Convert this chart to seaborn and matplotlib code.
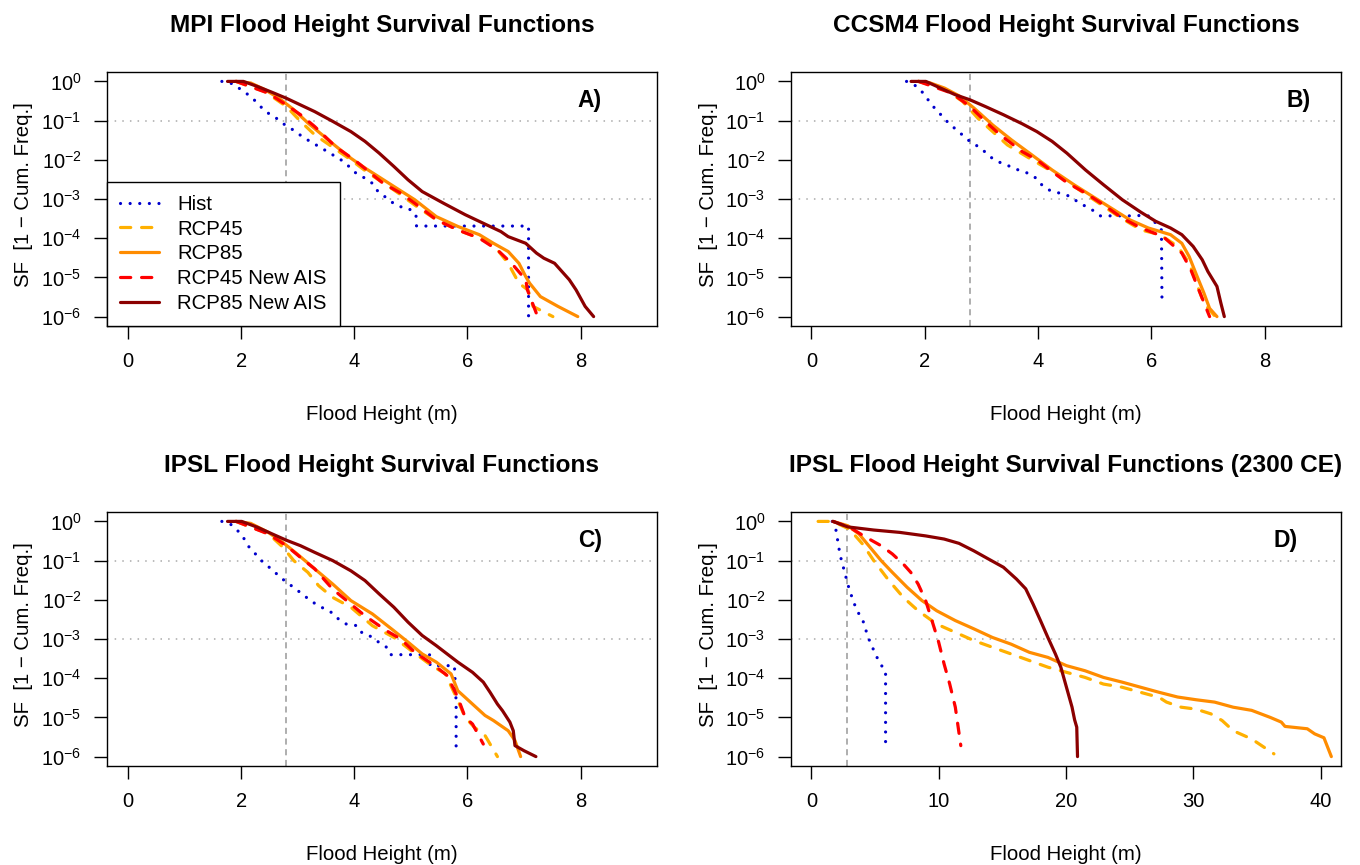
import numpy as np
import matplotlib
matplotlib.use("Agg")
import matplotlib.pyplot as plt
from matplotlib.ticker import NullLocator
import seaborn as sns

# series shared by every panel
series_names = ["Hist", "RCP45", "RCP85", "RCP45 New AIS", "RCP85 New AIS"]
series_colors = ["#0000cd", "#ffb000", "#ff8c00", "#ff0000", "#8b0000"]

# ---- A) MPI : flood height (m) and log10 of the survival function ----
mpi_hist_x = [1.66, 1.85, 2.09, 2.23, 2.43, 2.60, 2.72, 2.83, 2.98, 3.12, 3.26, 3.39, 3.54, 3.68,
              3.81, 4.03, 4.19, 4.32, 4.41, 4.54, 4.64, 4.79, 4.95, 5.09, 5.10, 7.08, 7.08]
mpi_hist_log = [0, -0.06, -0.30, -0.47, -0.77, -0.91, -1.06, -1.15, -1.30, -1.45, -1.56, -1.68, -1.80, -1.93,
                -2.04, -2.34, -2.47, -2.60, -2.79, -2.94, -3.06, -3.19, -3.23, -3.39, -3.69, -3.69, -6.0]
mpi_rcp45_x = [1.91, 2.42, 2.80, 3.05, 3.30, 3.68, 3.94, 4.25, 4.57, 4.82, 5.14, 5.45, 5.83, 6.21,
               6.46, 6.72, 6.91, 7.07, 7.16, 7.51]
mpi_rcp45_log = [0, -0.26, -0.64, -1.02, -1.36, -1.74, -2.00, -2.34, -2.64, -2.89, -3.23, -3.53, -3.79, -4.00,
                 -4.17, -4.64, -5.15, -5.32, -5.74, -6.0]
mpi_rcp85_x = [1.91, 2.17, 2.42, 2.67, 2.93, 3.18, 3.43, 3.68, 3.94, 4.19, 4.44, 4.70, 5.07, 5.45,
               5.83, 6.21, 6.46, 6.72, 6.91, 7.03, 7.10, 7.29, 7.60, 7.95]
mpi_rcp85_log = [0, -0.04, -0.21, -0.43, -0.72, -1.06, -1.36, -1.66, -1.96, -2.21, -2.44, -2.68, -3.02, -3.45,
                 -3.70, -3.91, -4.13, -4.34, -4.64, -4.98, -5.15, -5.49, -5.74, -6.0]
mpi_rcp45ais_x = [1.91, 2.48, 2.80, 3.05, 3.30, 3.68, 4.00, 4.51, 4.82, 5.07, 5.45, 5.83, 6.21, 6.53,
                  6.78, 7.03, 7.06, 7.24]
mpi_rcp45ais_log = [0, -0.30, -0.60, -0.85, -1.15, -1.68, -2.00, -2.60, -2.85, -3.11, -3.53, -3.79, -4.00, -4.30,
                    -4.64, -5.06, -5.32, -6.0]
mpi_rcp85ais_x = [1.76, 2.04, 2.29, 2.55, 2.80, 3.05, 3.30, 3.62, 3.94, 4.19, 4.44, 4.70, 4.95, 5.20,
                  5.58, 5.96, 6.34, 6.59, 6.72, 7.03, 7.22, 7.35, 7.54, 7.67, 7.80, 7.92, 8.08, 8.23]
mpi_rcp85ais_log = [0, 0, -0.13, -0.28, -0.43, -0.60, -0.77, -1.02, -1.28, -1.53, -1.83, -2.17, -2.51, -2.81,
                    -3.11, -3.40, -3.66, -3.83, -3.96, -4.13, -4.38, -4.51, -4.64, -4.85, -5.06, -5.32, -5.74, -6.0]

# ---- B) CCSM4 ----
ccsm_hist_x = [1.68, 1.82, 1.95, 2.05, 2.15, 2.25, 2.35, 2.46, 2.58, 2.71, 2.82, 2.97, 3.20, 3.36,
               3.51, 3.67, 3.82, 3.97, 4.08, 4.21, 4.38, 4.54, 4.67, 4.82, 4.97, 5.10, 5.75, 5.88,
               5.98, 6.08, 6.18, 6.19]
ccsm_hist_log = [0, -0.09, -0.26, -0.45, -0.64, -0.79, -0.96, -1.11, -1.26, -1.42, -1.56, -1.68, -1.97, -2.09,
                 -2.17, -2.27, -2.34, -2.47, -2.66, -2.78, -2.85, -2.92, -3.04, -3.17, -3.29, -3.43, -3.43, -3.40,
                 -3.45, -3.62, -3.79, -5.71]
ccsm_rcp45_x = [1.89, 2.35, 2.67, 2.94, 3.20, 3.46, 3.85, 4.25, 4.64, 5.03, 5.43, 5.82, 6.15, 6.47,
                6.67, 6.80, 6.93, 7.13]
ccsm_rcp45_log = [0, -0.20, -0.51, -0.94, -1.28, -1.62, -1.96, -2.30, -2.68, -3.06, -3.45, -3.79, -3.91, -4.21,
                  -4.64, -5.15, -5.66, -6.0]
ccsm_rcp85_x = [1.89, 2.08, 2.35, 2.61, 2.87, 3.20, 3.53, 3.85, 4.25, 4.64, 4.97, 5.29, 5.62, 5.95,
                6.34, 6.54, 6.67, 6.80, 6.93, 7.03, 7.16]
ccsm_rcp85_log = [0, -0.03, -0.17, -0.37, -0.68, -1.11, -1.49, -1.83, -2.26, -2.64, -2.94, -3.23, -3.53, -3.74,
                  -3.91, -4.13, -4.47, -4.94, -5.40, -5.79, -6.0]
ccsm_rcp45ais_x = [1.89, 2.48, 2.80, 3.07, 3.33, 3.72, 3.98, 4.25, 4.51, 4.84, 5.16, 5.49, 5.82, 6.21,
                   6.54, 6.70, 6.84, 7.03]
ccsm_rcp45ais_log = [0, -0.30, -0.64, -1.02, -1.36, -1.79, -2.00, -2.30, -2.58, -2.85, -3.15, -3.49, -3.74, -3.96,
                     -4.38, -4.81, -5.32, -6.0]
ccsm_rcp85ais_x = [1.76, 2.02, 2.28, 2.54, 2.80, 3.07, 3.39, 3.72, 3.98, 4.25, 4.51, 4.84, 5.16, 5.49,
                   5.82, 6.08, 6.34, 6.54, 6.74, 6.90, 7.00, 7.16, 7.23, 7.29]
ccsm_rcp85ais_log = [0, 0, -0.17, -0.34, -0.47, -0.64, -0.85, -1.08, -1.28, -1.53, -1.83, -2.26, -2.64, -3.02,
                     -3.34, -3.57, -3.74, -3.91, -4.21, -4.55, -4.85, -5.23, -5.66, -6.0]

# ---- C) IPSL ----
ipsl_hist_x = [1.66, 1.82, 1.93, 2.04, 2.12, 2.23, 2.33, 2.44, 2.58, 2.67, 2.80, 2.94, 3.07, 3.19,
               3.32, 3.46, 3.62, 3.72, 3.86, 4.05, 4.14, 4.30, 4.43, 4.57, 4.64, 5.33, 5.34, 5.77,
               5.80, 5.80]
ipsl_hist_log = [0, -0.08, -0.22, -0.41, -0.62, -0.79, -0.96, -1.11, -1.26, -1.41, -1.54, -1.70, -1.84, -1.98,
                 -2.11, -2.22, -2.34, -2.49, -2.62, -2.66, -2.85, -2.94, -3.08, -3.21, -3.40, -3.40, -3.68, -3.68,
                 -4.61, -5.89]
ipsl_rcp45_x = [1.91, 2.48, 2.74, 2.93, 3.18, 3.37, 3.62, 3.94, 4.32, 4.70, 5.01, 5.33, 5.61, 5.83,
                5.96, 6.12, 6.31, 6.53]
ipsl_rcp45_log = [0, -0.31, -0.66, -1.00, -1.30, -1.64, -1.94, -2.19, -2.66, -2.96, -3.30, -3.64, -3.89, -4.57,
                  -5.00, -5.25, -5.46, -6.0]
ipsl_rcp85_x = [1.91, 2.17, 2.48, 2.74, 2.99, 3.30, 3.62, 3.94, 4.32, 4.70, 4.95, 5.20, 5.45, 5.71,
                5.83, 5.96, 6.15, 6.31, 6.46, 6.72, 6.84, 6.94]
ipsl_rcp85_log = [0, -0.05, -0.28, -0.54, -0.83, -1.21, -1.60, -2.02, -2.36, -2.79, -3.08, -3.38, -3.59, -3.89,
                  -4.32, -4.49, -4.74, -4.95, -5.08, -5.34, -5.59, -6.0]
ipsl_rcp45ais_x = [1.91, 2.48, 2.80, 3.05, 3.30, 3.62, 3.94, 4.19, 4.57, 4.82, 5.07, 5.42, 5.64, 5.83,
                   5.96, 6.09, 6.28]
ipsl_rcp45ais_log = [0, -0.32, -0.62, -0.92, -1.21, -1.73, -2.11, -2.41, -2.79, -3.00, -3.34, -3.68, -3.93, -4.49,
                     -5.00, -5.17, -5.68]
ipsl_rcp85ais_x = [1.76, 2.01, 2.29, 2.55, 2.80, 3.05, 3.30, 3.62, 3.94, 4.19, 4.44, 4.70, 4.95, 5.20,
                   5.45, 5.64, 5.83, 6.09, 6.28, 6.40, 6.53, 6.62, 6.75, 6.81, 6.84, 7.00, 7.21]
ipsl_rcp85ais_log = [0, 0, -0.15, -0.32, -0.48, -0.62, -0.79, -1.00, -1.26, -1.51, -1.85, -2.19, -2.57, -2.91,
                     -3.17, -3.38, -3.59, -3.85, -4.10, -4.36, -4.66, -4.83, -5.12, -5.34, -5.72, -5.85, -6.0]

# ---- D) IPSL 2300 CE ----
ipsl23_hist_x = [1.63, 1.92, 2.07, 2.21, 2.39, 2.62, 2.79, 3.03, 3.29, 3.58, 4.02, 4.45, 5.04, 5.41,
                 5.82, 5.82]
ipsl23_hist_log = [0, -0.22, -0.51, -0.79, -1.05, -1.30, -1.54, -1.79, -2.04, -2.28, -2.51, -2.96, -3.40, -3.64,
                   -3.81, -5.72]
ipsl23_rcp45_x = [0.52, 1.69, 2.99, 4.02, 4.89, 6.06, 7.22, 8.38, 9.84, 11.30, 12.75, 14.21, 15.67, 17.12,
                  18.58, 20.03, 21.49, 22.94, 24.40, 25.85, 27.31, 27.89, 29.05, 30.22, 31.38, 32.26, 33.13,
                  34.58, 36.33]
ipsl23_rcp45_log = [0, 0, -0.20, -0.58, -1.00, -1.50, -1.94, -2.28, -2.62, -2.83, -3.04, -3.21, -3.38, -3.55,
                    -3.72, -3.85, -3.98, -4.15, -4.23, -4.36, -4.49, -4.61, -4.74, -4.79, -4.91, -5.08, -5.34,
                    -5.55, -5.93]
ipsl23_rcp85_x = [1.69, 2.85, 3.73, 4.60, 5.47, 6.35, 7.51, 8.68, 9.84, 11.30, 12.75, 14.21, 15.67, 17.12,
                  18.58, 20.03, 21.49, 22.94, 24.40, 25.85, 27.31, 28.76, 30.22, 31.67, 33.13, 34.58, 36.04,
                  36.91, 37.20, 38.95, 39.53, 40.26, 40.84]
ipsl23_rcp85_log = [0, -0.11, -0.32, -0.66, -1.00, -1.30, -1.68, -2.02, -2.28, -2.53, -2.74, -2.96, -3.13, -3.34,
                    -3.47, -3.68, -3.81, -3.98, -4.10, -4.23, -4.36, -4.48, -4.55, -4.61, -4.74, -4.82, -5.00,
                    -5.12, -5.23, -5.29, -5.42, -5.52, -6.0]
ipsl23_rcp45ais_x = [1.69, 2.99, 4.31, 5.47, 6.35, 7.22, 7.80, 8.38, 8.97, 9.55, 9.99, 10.42, 10.86, 11.30,
                     11.73]
ipsl23_rcp45ais_log = [0, -0.15, -0.41, -0.62, -0.83, -1.09, -1.30, -1.60, -2.02, -2.62, -3.08, -3.64, -4.15, -4.74,
                       -5.72]
ipsl23_rcp85ais_x = [1.69, 2.85, 4.89, 6.93, 8.97, 10.42, 11.59, 12.75, 13.91, 15.08, 16.10, 16.83, 17.41, 17.99,
                     18.57, 19.16, 19.59, 20.03, 20.47, 20.67, 20.84, 20.90]
ipsl23_rcp85ais_log = [0, -0.14, -0.22, -0.28, -0.37, -0.45, -0.56, -0.75, -0.96, -1.17, -1.47, -1.72, -2.11, -2.53,
                       -2.96, -3.38, -3.72, -4.23, -4.74, -5.06, -5.25, -6.0]

panel_titles = ["MPI Flood Height Survival Functions", "CCSM4 Flood Height Survival Functions",
                "IPSL Flood Height Survival Functions", "IPSL Flood Height Survival Functions (2300 CE)"]
panel_letters = ["A)", "B)", "C)", "D)"]
panel_xticks = [[0, 2, 4, 6, 8], [0, 2, 4, 6, 8], [0, 2, 4, 6, 8], [0, 10, 20, 30, 40]]
panel_xlims = [(-0.37, 9.35), (-0.36, 9.35), (-0.37, 9.35), (-1.61, 41.6)]
yticks_exp = [0, -1, -2, -3, -4, -5, -6]
threshold_x = 2.8

curves = [
    [(mpi_hist_x, mpi_hist_log), (mpi_rcp45_x, mpi_rcp45_log), (mpi_rcp85_x, mpi_rcp85_log),
     (mpi_rcp45ais_x, mpi_rcp45ais_log), (mpi_rcp85ais_x, mpi_rcp85ais_log)],
    [(ccsm_hist_x, ccsm_hist_log), (ccsm_rcp45_x, ccsm_rcp45_log), (ccsm_rcp85_x, ccsm_rcp85_log),
     (ccsm_rcp45ais_x, ccsm_rcp45ais_log), (ccsm_rcp85ais_x, ccsm_rcp85ais_log)],
    [(ipsl_hist_x, ipsl_hist_log), (ipsl_rcp45_x, ipsl_rcp45_log), (ipsl_rcp85_x, ipsl_rcp85_log),
     (ipsl_rcp45ais_x, ipsl_rcp45ais_log), (ipsl_rcp85ais_x, ipsl_rcp85ais_log)],
    [(ipsl23_hist_x, ipsl23_hist_log), (ipsl23_rcp45_x, ipsl23_rcp45_log), (ipsl23_rcp85_x, ipsl23_rcp85_log),
     (ipsl23_rcp45ais_x, ipsl23_rcp45ais_log), (ipsl23_rcp85ais_x, ipsl23_rcp85ais_log)],
]

line_styles = [(0, (0.01, 3.0)), (0, (3.2, 3.4)), "-", (0, (3.2, 3.4)), "-"]

sns.set_style("ticks")
plt.rcParams["font.family"] = ["Liberation Sans", "DejaVu Sans"]
plt.rcParams["mathtext.fontset"] = "custom"
plt.rcParams["mathtext.rm"] = "Liberation Sans"
plt.rcParams["mathtext.it"] = "Liberation Sans:italic"
plt.rcParams["mathtext.bf"] = "Liberation Sans:bold"
for k in ["text.color", "axes.labelcolor", "xtick.color", "ytick.color", "axes.edgecolor"]:
    plt.rcParams[k] = "black"

W, H = 1360, 865
fig = plt.figure(figsize=(13.6, 8.65), dpi=100)

# axes boxes in pixels: left, top
boxes = [(107, 72), (791, 72), (107, 512), (791, 512)]
bw, bh = 550, 254
letter_x = [0.878, 0.922, 0.878, 0.90]

for i, (bx, by) in enumerate(boxes):
    ax = fig.add_axes([bx / W, 1 - (by + bh) / H, bw / W, bh / H])
    ax.set_yscale("log")

    handles = []
    for j, (xs, lg) in enumerate(curves[i]):
        sns.lineplot(x=xs, y=10.0 ** np.asarray(lg), ax=ax, sort=False, estimator=None,
                     color=series_colors[j], linestyle=line_styles[j], linewidth=2.3,
                     dash_capstyle="round", solid_capstyle="round", legend=False)
        handles.append(ax.get_lines()[-1])

    ax.axvline(threshold_x, color="#999999", lw=1.1, linestyle=(0, (4, 3)), zorder=0)
    for e in [-1, -3]:
        ax.axhline(10.0 ** e, color="#aaaaaa", lw=1.1, linestyle=(0, (1, 4)), zorder=0)

    ax.set_xlim(*panel_xlims[i])
    ax.set_ylim(10 ** -6.24, 10 ** 0.24)
    ax.set_xticks(panel_xticks[i])
    ax.set_xticklabels([str(t) for t in panel_xticks[i]])
    ax.set_yticks([10.0 ** e for e in yticks_exp])
    ax.set_yticklabels(["$10^{%d}$" % e for e in yticks_exp])
    ax.yaxis.set_minor_locator(NullLocator())
    ax.tick_params(direction="out", length=9.4, width=1, labelsize=14.5, colors="black")
    ax.tick_params(axis="x", pad=9)
    ax.tick_params(axis="y", pad=9)
    for sp in ax.spines.values():
        sp.set_visible(True)
        sp.set_linewidth(1.0)
        sp.set_color("black")

    ax.text(letter_x[i], 0.886, panel_letters[i], transform=ax.transAxes, ha="center", va="center",
            fontsize=16.5, fontweight="bold", color="black")

    # titles and labels in pixel positions like the original
    cx = (bx + bw / 2) / W
    fig.text(cx, 1 - (by - 40) / H, panel_titles[i], ha="center", va="baseline",
             fontsize=17.6, fontweight="bold", color="black")
    fig.text(cx, 1 - (by + 348) / H, "Flood Height (m)", ha="center", va="baseline", fontsize=14.7,
             color="black")
    fig.text((bx - 83) / W, 1 - (by + 123) / H, "SF  [1 \u2212 Cum. Freq.]", ha="center", va="center",
             rotation=90, fontsize=14.7, color="black")

    if i == 0:
        leg = ax.legend(handles, series_names, loc="lower left", bbox_to_anchor=(0, 0),
                        borderaxespad=0, fontsize=14.7, handlelength=1.9, handletextpad=0.9,
                        borderpad=0.65, labelspacing=0.28, fancybox=False, framealpha=1,
                        edgecolor="black")
        leg.get_frame().set_linewidth(1.0)
        leg.set_zorder(5)
        for t in leg.get_texts():
            t.set_color("black")

fig.savefig("out.png", dpi=100)
